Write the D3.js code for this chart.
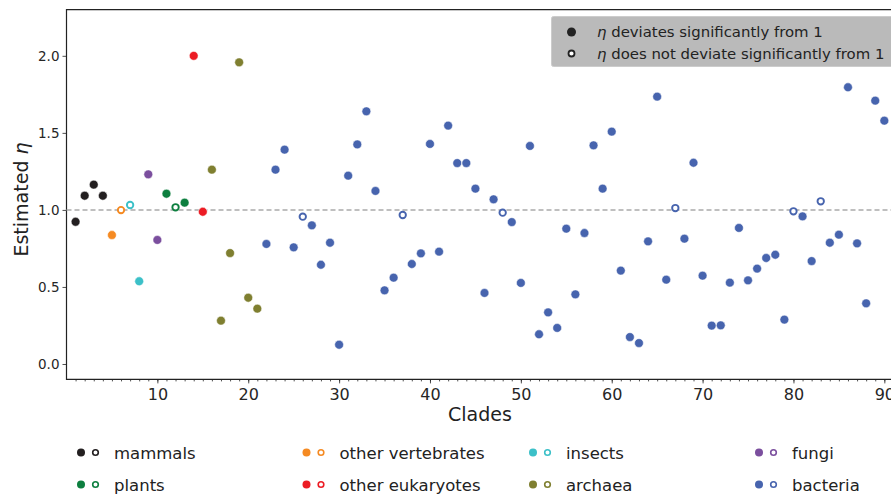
<!DOCTYPE html>
<html>
<head>
<meta charset="utf-8">
<script src="https://cdn.jsdelivr.net/npm/d3@7"></script>
<style>
  body { margin: 0; background: #fff; }
  svg { display: block; font-family: "DejaVu Sans", sans-serif; }
</style>
</head>
<body>
<svg id="chart"></svg>
<script>
// estimated eta per clade (clade number = index + 1)
const etaValues = [
  0.923, 1.092, 1.164, 1.092, 0.837, 0.999, 1.032, 0.537, 1.231, 0.805,
  1.105, 1.017, 1.047, 2.000, 0.988, 1.261, 0.281, 0.720, 1.958, 0.430,
  0.359, 0.779, 1.261, 1.391, 0.757, 0.956, 0.900, 0.644, 0.787, 0.125,
  1.222, 1.425, 1.640, 1.123, 0.478, 0.560, 0.967, 0.649, 0.718, 1.428,
  0.729, 1.547, 1.304, 1.304, 1.138, 0.461, 1.069, 0.982, 0.921, 0.526,
  1.415, 0.193, 0.335, 0.234, 0.878, 0.452, 0.850, 1.419, 1.138, 1.508,
  0.606, 0.175, 0.136, 0.796, 1.735, 0.547, 1.012, 0.813, 1.306, 0.573,
  0.249, 0.251, 0.528, 0.883, 0.543, 0.619, 0.688, 0.709, 0.288, 0.991,
  0.958, 0.668, 1.056, 0.787, 0.839, 1.796, 0.783, 0.394, 1.709, 1.579
];

// how many consecutive clades belong to each group
const groups = ["mammals", "other vertebrates", "insects", "fungi",
                "plants", "other eukaryotes", "archaea", "bacteria"];
const groupCounts = [4, 2, 2, 2, 3, 2, 6, 69];
const colors = ["#231f20", "#f58a22", "#3cc0c8", "#7b4f9e",
                "#0d7f3f", "#ec1c24", "#7f7f30", "#4764ae"];

// clades where eta does not deviate significantly from 1
const notSignificant = [6, 7, 12, 26, 37, 48, 67, 80, 83];

const yTicks = [0.0, 0.5, 1.0, 1.5, 2.0];
const xTicks = [10, 20, 30, 40, 50, 60, 70, 80, 90];

// legend order in the bottom block (4 columns x 2 rows)
const legendOrder = ["mammals", "other vertebrates", "insects", "fungi",
                     "plants", "other eukaryotes", "archaea", "bacteria"];

const wSvg = 891;
const hSvg = 497;

const margin = { top: 9.6, left: 66.5, bottom: 379.4 };
const plotRight = 66.5 + 91 * 9.087;

const svg = d3.select("#chart")
  .attr("width", wSvg)
  .attr("height", hSvg);

let groupOf = [];
groupCounts.forEach((n, g) => {
  for (let k = 0; k < n; k++) groupOf.push(g);
});

const data = etaValues.map((v, i) => ({
  clade: i + 1,
  eta: v,
  group: groupOf[i],
  sig: !notSignificant.includes(i + 1)
}));

const x = d3.scaleLinear()
  .domain([0, 91])
  .range([margin.left, plotRight]);

const y = d3.scaleLinear()
  .domain([-0.1, 2.3])
  .range([margin.bottom, margin.top]);

// y axis
svg.append("g")
  .attr("transform", `translate(${margin.left}, 0)`)
  .call(d3.axisLeft(y).tickValues(yTicks).tickFormat(d3.format(".1f")).tickSize(4).tickPadding(3));

// x axis, minor ticks on every clade
svg.append("g")
  .attr("transform", `translate(0, ${margin.bottom})`)
  .call(d3.axisBottom(x).tickValues(d3.range(1, 91)).tickSize(2).tickFormat(""));

const xAxis = svg.append("g")
  .attr("transform", `translate(0, ${margin.bottom})`)
  .call(d3.axisBottom(x).tickValues(xTicks).tickSize(4).tickPadding(5));

svg.selectAll(".domain").remove();
svg.selectAll(".tick line").attr("stroke", "#222").attr("stroke-width", 0.8);
svg.selectAll(".tick text")
  .attr("fill", "#262626")
  .style("font-size", "13.5px")
  .style("font-family", "DejaVu Sans");
xAxis.selectAll(".tick text").style("font-size", "16px");

// frame (right side falls outside the picture)
svg.append("path")
  .attr("d", `M${plotRight},${margin.top}H${margin.left}V${margin.bottom}H${plotRight}`)
  .attr("fill", "none")
  .attr("stroke", "#222")
  .attr("stroke-width", 1.2);

// reference line at eta = 1
svg.append("line")
  .attr("x1", margin.left)
  .attr("x2", plotRight)
  .attr("y1", y(1))
  .attr("y2", y(1))
  .attr("stroke", "#aaaaaa")
  .attr("stroke-width", 1.5)
  .attr("stroke-dasharray", "5,3");

// points
svg.append("g")
  .selectAll("circle")
  .data(data)
  .enter()
  .append("circle")
  .attr("cx", d => x(d.clade))
  .attr("cy", d => y(d.eta))
  .attr("r", d => d.sig ? 4.4 : 3.2)
  .attr("fill", d => d.sig ? colors[d.group] : "#fff")
  .attr("stroke", d => d.sig ? "#fff" : colors[d.group])
  .attr("stroke-width", d => d.sig ? 0.5 : 1.9);

// axis labels
const yLabel = svg.append("text")
  .attr("transform", `translate(28, ${(margin.top + margin.bottom) / 2 + 5}) rotate(-90)`)
  .attr("text-anchor", "middle")
  .attr("fill", "#222")
  .style("font-size", "19px");
yLabel.append("tspan").text("Estimated ");
yLabel.append("tspan").style("font-style", "italic").text("η");

svg.append("text")
  .attr("x", (margin.left + plotRight) / 2)
  .attr("y", 421)
  .attr("text-anchor", "middle")
  .attr("fill", "#222")
  .style("font-size", "19px")
  .text("Clades");

// significance legend (top right)
const sigLegend = svg.append("g");
sigLegend.append("rect")
  .attr("x", 551.5)
  .attr("y", 16.5)
  .attr("width", 360)
  .attr("height", 50)
  .attr("rx", 2)
  .attr("fill", "#bababa")
  .attr("stroke", "#cccccc");

const sigLabels = ["deviates significantly from 1", "does not deviate significantly from 1"];
sigLabels.forEach((txt, i) => {
  const cy = 32 + i * 21.5;
  sigLegend.append("circle")
    .attr("cx", 571.5)
    .attr("cy", cy)
    .attr("r", i === 0 ? 4.5 : 3)
    .attr("fill", i === 0 ? "#222" : "#fff")
    .attr("stroke", "#222")
    .attr("stroke-width", i === 0 ? 0 : 1.8);
  const t = sigLegend.append("text")
    .attr("x", 597)
    .attr("y", cy + 5)
    .attr("fill", "#222")
    .style("font-size", "14.9px");
  t.append("tspan").style("font-style", "italic").text("η");
  t.append("tspan").text(" " + txt);
});

// clade group legend (bottom)
const colX = [81, 306.5, 533, 759];
const rowY = [452.5, 484.5];
const groupLegend = svg.append("g");
legendOrder.forEach((name, i) => {
  const g = groups.indexOf(name);
  const lx = colX[i % 4];
  const ly = rowY[Math.floor(i / 4)];
  groupLegend.append("circle")
    .attr("cx", lx).attr("cy", ly).attr("r", 4)
    .attr("fill", colors[g]);
  groupLegend.append("circle")
    .attr("cx", lx + 14.5).attr("cy", ly).attr("r", 2.8)
    .attr("fill", "#fff")
    .attr("stroke", colors[g])
    .attr("stroke-width", 1.6);
  groupLegend.append("text")
    .attr("x", lx + 33)
    .attr("y", ly + 6)
    .attr("fill", "#222")
    .style("font-size", "16.5px")
    .text(name);
});
</script>
</body>
</html>
